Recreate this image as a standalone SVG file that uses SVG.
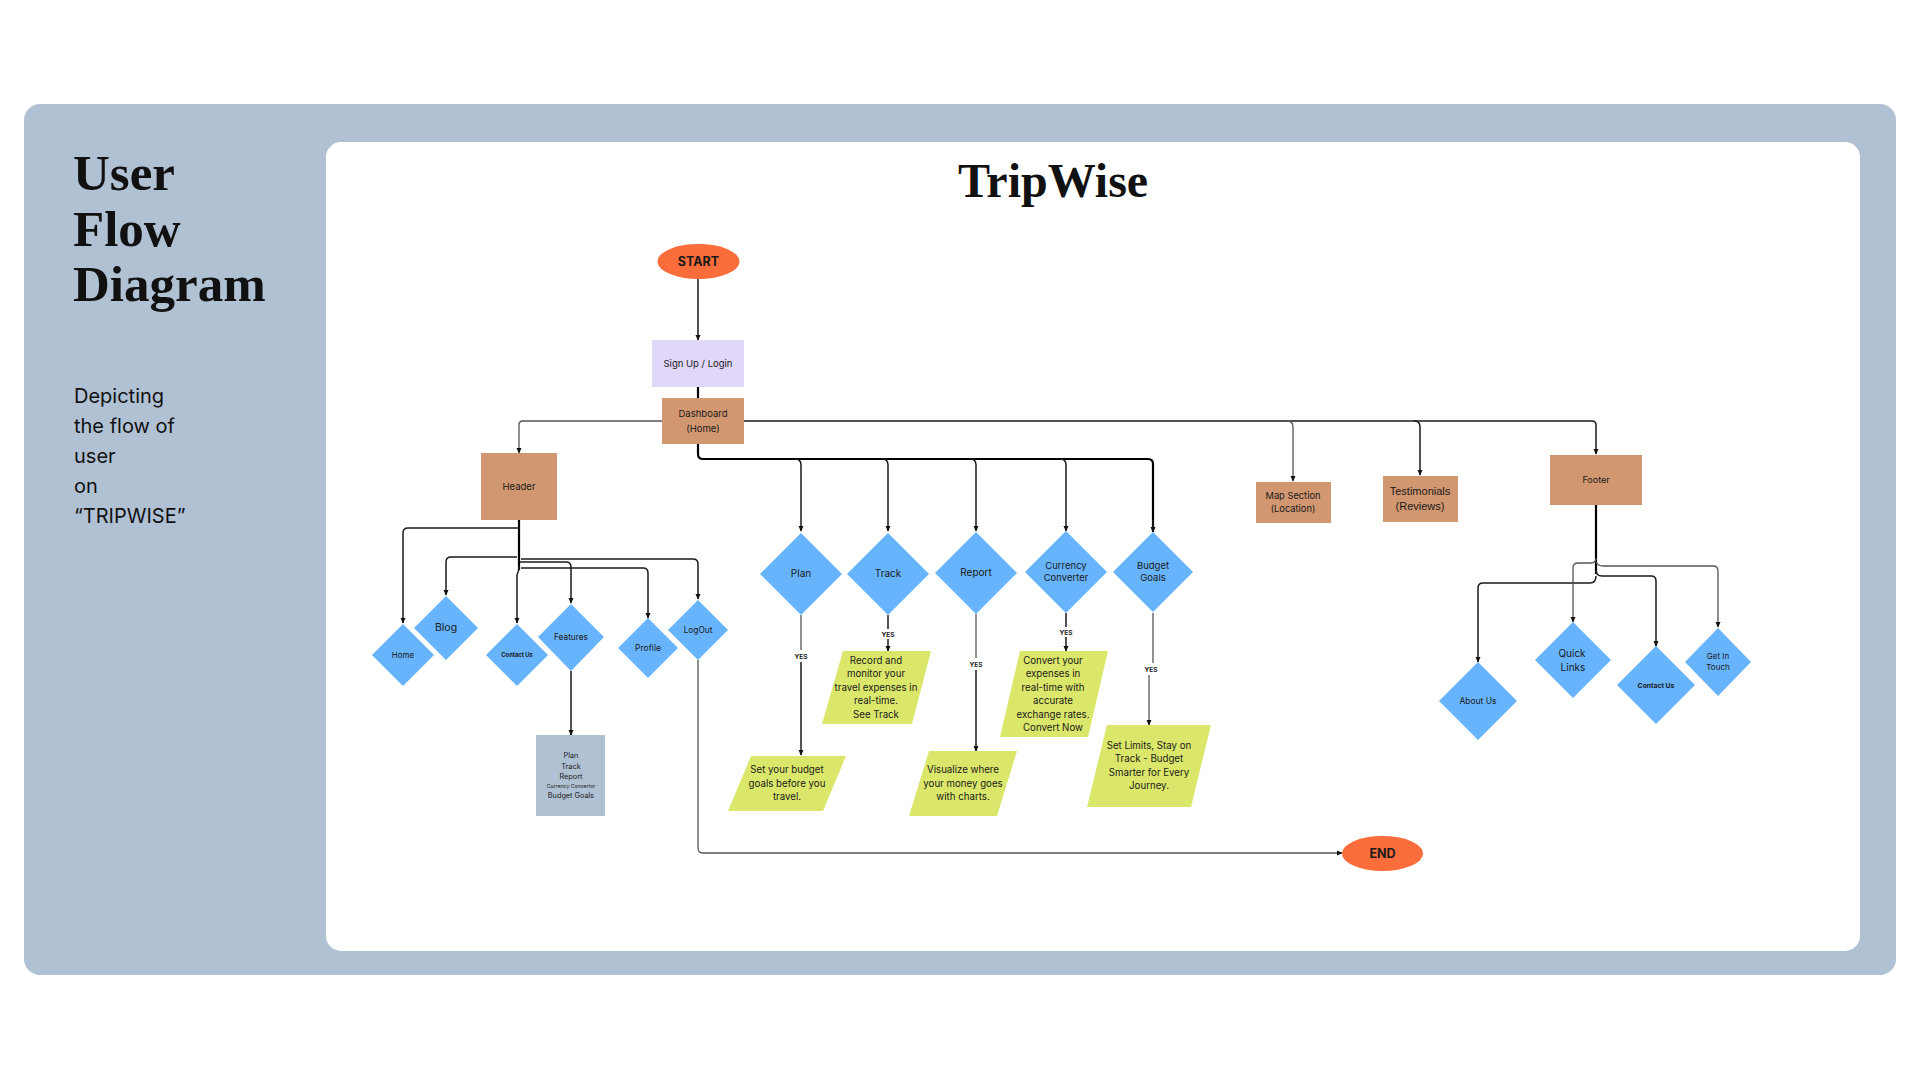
<svg xmlns="http://www.w3.org/2000/svg" width="1920" height="1080" viewBox="0 0 1920 1080">
<defs>
<marker id="ah" viewBox="0 0 8 8" refX="7" refY="4" markerWidth="6" markerHeight="6" orient="auto" markerUnits="userSpaceOnUse">
<path d="M0,0.5 L8,4 L0,7.5 Z" fill="#111"/>
</marker>
<style>
.t{font-family:Inter,"Noto Sans","DejaVu Sans",sans-serif;fill:#1a1a1a;text-anchor:middle}
.b{font-weight:700}
.c{fill:none;stroke:#1a1a1a;stroke-width:1.5}
.g{fill:none;stroke:#555;stroke-width:1.3}
.k{fill:none;stroke:#000;stroke-width:2.2}
.a{marker-end:url(#ah)}
.dia{fill:#67B4FD}
.brn{fill:#D19770}
.par{fill:#DAE76B}
.ell{fill:#FB6D3B}
</style>
</defs>
<rect width="1920" height="1080" fill="#fff"/>
<rect x="24" y="104" width="1872" height="871" rx="16" fill="#B0C1D4"/>
<rect x="326" y="142" width="1534" height="809" rx="15" fill="#fff"/>

<g id="left-title">
<text font-family="'Liberation Serif','DejaVu Serif',serif" font-weight="700" font-size="51" fill="#111"><tspan x="73" y="190">User</tspan><tspan x="73" y="246">Flow</tspan><tspan x="73" y="301">Diagram</tspan></text>
<text font-family="Inter,'Noto Sans',sans-serif" font-size="20" fill="#111"><tspan x="74" y="403">Depicting</tspan><tspan x="74" y="433">the flow of</tspan><tspan x="74" y="463">user</tspan><tspan x="74" y="493">on</tspan><tspan x="74" y="523">“TRIPWISE”</tspan></text>
</g>
<text x="1053" y="197" font-family="'Liberation Serif','DejaVu Serif',serif" font-weight="700" font-size="48" fill="#111" text-anchor="middle">TripWise</text>

<g id="connectors">
<path class="c a" d="M698,279 V340"/>
<path class="k" d="M698,387 V398"/>
<path class="g a" d="M662,421 H523 Q519,421 519,425 V453"/>
<path class="c a" d="M744,421 H1592 Q1596,421 1596,425 V454"/>
<path class="g a" d="M1287,421 Q1293,421 1293,427 V481"/>
<path class="c a" d="M1414,421 Q1420,421 1420,427 V475"/>
<path class="k" d="M698,444 V454 Q698,459 703,459 H1148 Q1153,459 1153,464 V532" />
<path class="c a" d="M1153,520 V532"/>
<path class="c a" d="M795,459 Q801,459 801,465 V531"/>
<path class="c a" d="M882,459 Q888,459 888,465 V531"/>
<path class="c a" d="M970,459 Q976,459 976,465 V531"/>
<path class="c a" d="M1060,459 Q1066,459 1066,465 V531"/>
<path class="g" d="M801,615 V650"/>
<path class="c a" d="M801,662 V755"/>
<path class="c" d="M888,615 V629"/>
<path class="c a" d="M888,639 V651"/>
<path class="g" d="M976,614 V658"/>
<path class="c a" d="M976,670 V751"/>
<path class="c" d="M1066,613 V627"/>
<path class="c a" d="M1066,637 V651"/>
<path class="g" d="M1153,613 V663"/>
<path class="g a" d="M1149,675 V725"/>
<path class="k" d="M519,520 V570"/>
<path class="c a" d="M519,528 H408 Q403,528 403,533 V623"/>
<path class="c a" d="M517,557 H451 Q446,557 446,562 V595"/>
<path class="c a" d="M519,566 Q519,571 517,575 V623"/>
<path class="c a" d="M519,562 H566 Q571,562 571,567 V603"/>
<path class="c a" d="M521,568 H643 Q648,568 648,573 V618"/>
<path class="c a" d="M521,559 H693 Q698,559 698,564 V599"/>
<path class="c a" d="M571,671 V735"/>
<path class="g a" d="M698,660 V848 Q698,853 703,853 H1342"/>
<path class="k" d="M1596,505 V574"/>
<path class="c a" d="M1596,576 Q1596,583 1590,583 H1483 Q1478,583 1478,588 V662"/>
<path class="g a" d="M1596,558 Q1596,563 1591,563 H1578 Q1573,563 1573,568 V622"/>
<path class="c a" d="M1596,570 Q1596,576 1602,576 H1651 Q1656,576 1656,581 V646"/>
<path class="g a" d="M1596,562 Q1598,566 1603,566 H1713 Q1718,566 1718,571 V627"/>
</g>

<g id="yes-labels" class="t b" font-size="6.5">
<text x="801" y="659">YES</text>
<text x="888" y="637">YES</text>
<text x="976" y="667">YES</text>
<text x="1066" y="635">YES</text>
<text x="1151" y="672">YES</text>
</g>

<g id="start">
<ellipse class="ell" cx="698.5" cy="261.5" rx="41" ry="17.5"/>
<text class="t b" x="698.5" y="266" font-size="12.5">START</text>
</g>
<g id="signup">
<rect x="652" y="340" width="92" height="47" fill="#E0D7FA"/>
<text class="t" x="698" y="367" font-size="9.5">Sign Up / Login</text>
</g>
<g id="dashboard">
<rect class="brn" x="662" y="398" width="82" height="46"/>
<text class="t" font-size="9.5"><tspan x="703" y="417">Dashboard</tspan><tspan x="703" y="432">(Home)</tspan></text>
</g>
<g id="header">
<rect class="brn" x="481" y="453" width="76" height="67"/>
<text class="t" x="519" y="490" font-size="9.5">Header</text>
</g>
<g id="home">
<path class="dia" d="M403,624 L434,655 L403,686 L372,655 Z"/>
<text class="t" x="403" y="658" font-size="8">Home</text>
</g>
<g id="blog">
<path class="dia" d="M446,596 L478,628 L446,660 L414,628 Z"/>
<text class="t" x="446" y="631" font-size="10.5">Blog</text>
</g>
<g id="contact-header">
<path class="dia" d="M517,624 L548,655 L517,686 L486,655 Z"/>
<text class="t b" x="517" y="657" font-size="5.8">Contact Us</text>
</g>
<g id="features">
<path class="dia" d="M571,604 L604,637 L571,671 L538,637 Z"/>
<text class="t" x="571" y="640" font-size="8.3">Features</text>
</g>
<g id="profile">
<path class="dia" d="M648,618 L678,648 L648,678 L618,648 Z"/>
<text class="t" x="648" y="651" font-size="8.5">Profile</text>
</g>
<g id="logout">
<path class="dia" d="M698,600 L728,630 L698,660 L668,630 Z"/>
<text class="t" x="698" y="633" font-size="8.3">LogOut</text>
</g>
<g id="features-list">
<rect x="536" y="735" width="69" height="81" fill="#B0C1D4"/>
<text class="t" font-size="7.3"><tspan x="571" y="758">Plan</tspan><tspan x="571" y="769">Track</tspan><tspan x="571" y="779">Report</tspan><tspan x="571" y="788" font-size="5.2">Currency Convertor</tspan><tspan x="571" y="798">Budget Goals</tspan></text>
</g>

<g id="plan">
<path class="dia" d="M801,533 L842,574 L801,615 L760,574 Z"/>
<text class="t" x="801" y="577" font-size="10">Plan</text>
</g>
<g id="track">
<path class="dia" d="M888,533 L929,574 L888,615 L847,574 Z"/>
<text class="t" x="888" y="577" font-size="10">Track</text>
</g>
<g id="report">
<path class="dia" d="M976,532 L1017,573 L976,614 L935,573 Z"/>
<text class="t" x="976" y="576" font-size="10">Report</text>
</g>
<g id="currency">
<path class="dia" d="M1066,531 L1107,572 L1066,613 L1025,572 Z"/>
<text class="t" font-size="9.5"><tspan x="1066" y="569">Currency</tspan><tspan x="1066" y="581">Converter</tspan></text>
</g>
<g id="budget">
<path class="dia" d="M1153,532 L1193,572 L1153,612 L1113,572 Z"/>
<text class="t" font-size="9.5"><tspan x="1153" y="569">Budget</tspan><tspan x="1153" y="581">Goals</tspan></text>
</g>

<g id="plan-desc">
<path class="par" d="M751,756 H846 L823,811 H728 Z"/>
<text class="t" font-size="9.7"><tspan x="787" y="773">Set your budget</tspan><tspan x="787" y="787">goals before you</tspan><tspan x="787" y="800">travel.</tspan></text>
</g>
<g id="track-desc">
<path class="par" d="M843,651 H931 L912,724 H822 Z"/>
<text class="t" font-size="9.7"><tspan x="876" y="664">Record and</tspan><tspan x="876" y="677">monitor your</tspan><tspan x="876" y="691">travel expenses in</tspan><tspan x="876" y="704">real-time.</tspan><tspan x="876" y="718">See Track</tspan></text>
</g>
<g id="report-desc">
<path class="par" d="M929,751 H1017 L997,816 H909 Z"/>
<text class="t" font-size="9.7"><tspan x="963" y="773">Visualize where</tspan><tspan x="963" y="787">your money goes</tspan><tspan x="963" y="800">with charts.</tspan></text>
</g>
<g id="currency-desc">
<path class="par" d="M1020,651 H1108 L1088,737 H1000 Z"/>
<text class="t" font-size="9.7"><tspan x="1053" y="664">Convert your</tspan><tspan x="1053" y="677">expenses in</tspan><tspan x="1053" y="691">real-time with</tspan><tspan x="1053" y="704">accurate</tspan><tspan x="1053" y="718">exchange rates.</tspan><tspan x="1053" y="731">Convert Now</tspan></text>
</g>
<g id="budget-desc">
<path class="par" d="M1107,725 H1211 L1191,807 H1087 Z"/>
<text class="t" font-size="9.7"><tspan x="1149" y="749">Set Limits, Stay on</tspan><tspan x="1149" y="762">Track - Budget</tspan><tspan x="1149" y="776">Smarter for Every</tspan><tspan x="1149" y="789">Journey.</tspan></text>
</g>

<g id="end">
<ellipse class="ell" cx="1382.5" cy="853.5" rx="40.5" ry="17.5"/>
<text class="t b" x="1382.5" y="858" font-size="12.5">END</text>
</g>

<g id="map-section">
<rect class="brn" x="1256" y="482" width="75" height="41"/>
<text class="t" font-size="9.3"><tspan x="1293" y="499">Map Section</tspan><tspan x="1293" y="512">(Location)</tspan></text>
</g>
<g id="testimonials">
<rect class="brn" x="1383" y="476" width="75" height="46"/>
<text font-family="'Liberation Sans',Arial,sans-serif" font-size="11" fill="#1a1a1a" text-anchor="middle"><tspan x="1420" y="495">Testimonials</tspan><tspan x="1420" y="510">(Reviews)</tspan></text>
</g>
<g id="footer">
<rect class="brn" x="1550" y="455" width="92" height="50"/>
<text class="t" x="1596" y="483" font-size="9">Footer</text>
</g>
<g id="about-us">
<path class="dia" d="M1478,662 L1517,701 L1478,740 L1439,701 Z"/>
<text class="t" x="1478" y="704" font-size="8.5">About Us</text>
</g>
<g id="quick-links">
<path class="dia" d="M1573,622 L1611,660 L1573,698 L1535,660 Z"/>
<text class="t" font-size="10"><tspan x="1572" y="657">Quick</tspan><tspan x="1573" y="671">Links</tspan></text>
</g>
<g id="contact-footer">
<path class="dia" d="M1656,646 L1695,685 L1656,724 L1617,685 Z"/>
<text class="t b" x="1656" y="688" font-size="6.8">Contact Us</text>
</g>
<g id="get-in-touch">
<path class="dia" d="M1718,628 L1751,662 L1718,696 L1685,662 Z"/>
<text class="t" font-size="8"><tspan x="1718" y="659">Get In</tspan><tspan x="1718" y="670">Touch</tspan></text>
</g>
</svg>
